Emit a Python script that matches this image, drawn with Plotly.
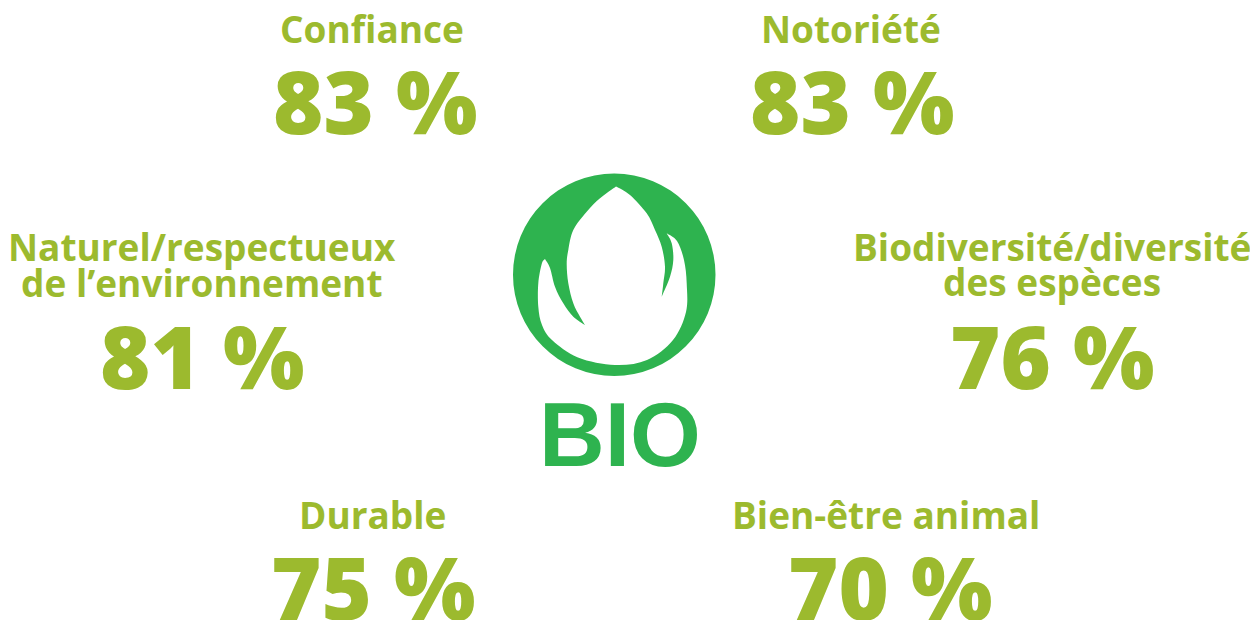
import plotly.graph_objects as go

# ---- data ----
labels = [
    ["Confiance"],
    ["Notoriété"],
    ["Naturel/respectueux", "de l\u2019environnement"],
    ["Biodiversité/diversité", "des espèces"],
    ["Durable"],
    ["Bien-être animal"],
]
values = [83, 83, 81, 76, 75, 70]

# ---- layout (pixel positions on a 1250x620 canvas) ----
label_x = [372, 851, 202, 1052, 372, 886]
label_y = [[28.5], [28.5], [246, 282], [246, 281], [514], [514.5]]
num_x = [375, 852, 202, 1052, 373, 890]
num_y = [100, 100, 355, 355, 586, 586]

OLIVE = "#9cba2e"
GREEN = "#2eb34f"
FONT = "Open Sans"

fig = go.Figure()
fig.add_trace(go.Scatter(x=[0, 1250], y=[0, 620], mode="markers",
                         marker=dict(opacity=0), hoverinfo="skip", showlegend=False))

annotations = []
for i, lines in enumerate(labels):
    for j, line in enumerate(lines):
        annotations.append(dict(
            x=label_x[i], y=label_y[i][j], xref="x", yref="y",
            text=line, showarrow=False, xanchor="center", yanchor="middle",
            font=dict(family=FONT, size=37, color=OLIVE, weight=700)))
    annotations.append(dict(
        x=num_x[i], y=num_y[i], xref="x", yref="y",
        text=f"{values[i]} %", showarrow=False, xanchor="center", yanchor="middle",
        font=dict(family=FONT, size=86, color=OLIVE, weight=800)))

annotations.append(dict(
    x=620, y=434, xref="x", yref="y", text="BIO", showarrow=False,
    xanchor="center", yanchor="middle",
    font=dict(family="Liberation Sans", size=91, color=GREEN, weight=700)))


# ---- logo: smooth path helper (Catmull-Rom -> cubic Bezier) ----
def seg(points):
    out = []
    n = len(points)
    for k in range(n - 1):
        p0 = points[k - 1] if k > 0 else points[k]
        p1 = points[k]
        p2 = points[k + 1]
        p3 = points[k + 2] if k + 2 < n else points[k + 1]
        c1 = (p1[0] + (p2[0] - p0[0]) / 6, p1[1] + (p2[1] - p0[1]) / 6)
        c2 = (p2[0] - (p3[0] - p1[0]) / 6, p2[1] - (p3[1] - p1[1]) / 6)
        out.append(f"C {c1[0]:.1f},{c1[1]:.1f} {c2[0]:.1f},{c2[1]:.1f} {p2[0]:.1f},{p2[1]:.1f}")
    return " ".join(out)


T = (616, 186.5)
L = (585, 325)
A = (545, 259)
B = (666.7, 233.3)
R = (661.7, 296.7)

drop_left = [T, (600, 198.3), (586.7, 211.7), (573.3, 230), (568.3, 250), (566.7, 264),
             (568.3, 283.3), (573.3, 303.3), (580, 316.7), L]
sliver_left = [L, (573.3, 316.7), (563.3, 303.3), (555, 286.7), (550, 268), A]
bowl = [A, (541.7, 264), (538.3, 283.3), (538.3, 306.7), (542, 325), (552, 340),
        (578, 357.5), (615, 365), (647, 360), (673, 340), (686, 312), (686.7, 283.3),
        (684, 260), (677, 241), B]
sliver_right = [B, (671.7, 243.3), (673.3, 260), (670, 276.7), R]
drop_right = [R, (663.3, 283.3), (665, 266.7), (661.7, 246.7), (655, 230),
              (646.7, 213.3), (630, 195), T]

path = f"M {T[0]},{T[1]} " + " ".join(seg(s) for s in
                                     [drop_left, sliver_left, bowl, sliver_right, drop_right]) + " Z"

shapes = [
    dict(type="circle", xref="x", yref="y", x0=513, y0=173.5, x1=715.5, y1=376,
         fillcolor=GREEN, line=dict(width=0)),
    dict(type="path", xref="x", yref="y", path=path, fillcolor="white", line=dict(width=0)),
]

fig.update_layout(
    width=1250, height=620,
    margin=dict(l=0, r=0, t=0, b=0),
    paper_bgcolor="white", plot_bgcolor="white",
    xaxis=dict(range=[0, 1250], visible=False, fixedrange=True),
    yaxis=dict(range=[620, 0], visible=False, fixedrange=True),
    annotations=annotations, shapes=shapes, showlegend=False,
)

fig.write_html("out.html", config={"displayModeBar": False},
               post_script="document.body.style.margin='0';document.body.style.overflow='hidden';")
